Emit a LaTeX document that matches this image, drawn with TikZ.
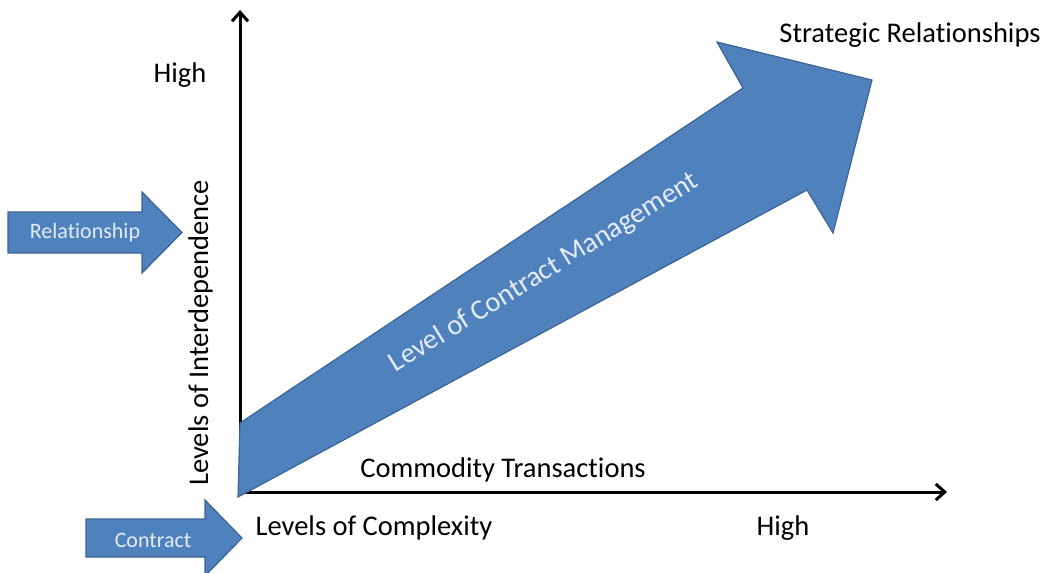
\documentclass[tikz,border=0pt]{standalone}
\usepackage{fontspec}
\setmainfont{Carlito}[RawFeature={-liga;-clig;-dlig;-hlig;-calt}]
\usetikzlibrary{arrows.meta}
\definecolor{ofblue}{HTML}{4F81BD}
\definecolor{ofedge}{HTML}{3C6494}
\definecolor{oflight}{HTML}{E3ECF7}
\tikzset{
  axisline/.style={line width=3pt, -{Straight Barb[length=9pt,width=16pt,line width=3pt]}},
  bluearrow/.style={fill=ofblue, draw=ofedge, line width=1.2pt, line join=miter},
  lbl/.style={font=\fontsize{28.5}{34}\selectfont, inner sep=0pt, anchor=base},
  inlbl/.style={font=\fontsize{28.5}{34}\selectfont, inner sep=0pt, anchor=base, text=oflight},
  smalllbl/.style={font=\fontsize{22}{26}\selectfont, inner sep=0pt, anchor=base, text=oflight}
}
\begin{document}
\begin{tikzpicture}[x=1pt,y=-1pt]
\useasboundingbox (0,0) rectangle (1050,573);
\clip (0,0) rectangle (1050,573);
% axes
\coordinate (O) at (240,494);
\coordinate (Ytop) at (240,10);
\coordinate (Xend) at (947,492);
\coordinate (Ox) at (238,492);
\draw[axisline] (O) -- (Ytop);
\draw[axisline] (Ox) -- (Xend);
% big arrow
\draw[bluearrow] (238,497) -- (807,190) -- (833,233) -- (872,80) -- (717,42) -- (743,88) -- (240,423) -- cycle;
\node[inlbl, rotate=31.5] (lcm) at (548,279) {Level of Contract Management};
% small arrows
\draw[bluearrow] (8,212) -- (142,212) -- (142,192) -- (182,232.5) -- (142,273) -- (142,253) -- (8,253) -- cycle;
\node[smalllbl] (rel) at (85,238) {Relationship};
\draw[bluearrow] (86,519) -- (205,519) -- (205,500) -- (242,538) -- (205,576) -- (205,557) -- (86,557) -- cycle;
\node[smalllbl] (con) at (153,547) {Contract};
% labels
\node[lbl] (strat) at (910,42) {Strategic Relationships};
\node[lbl] (hiy) at (180,82) {High};
\node[lbl, rotate=90] (lint) at (208,333) {Levels of Interdependence};
\node[lbl] (comm) at (503,477) {Commodity Transactions};
\node[lbl] (lcx) at (374,535) {Levels of Complexity};
\node[lbl] (hix) at (783,535) {High};
\end{tikzpicture}
\end{document}
